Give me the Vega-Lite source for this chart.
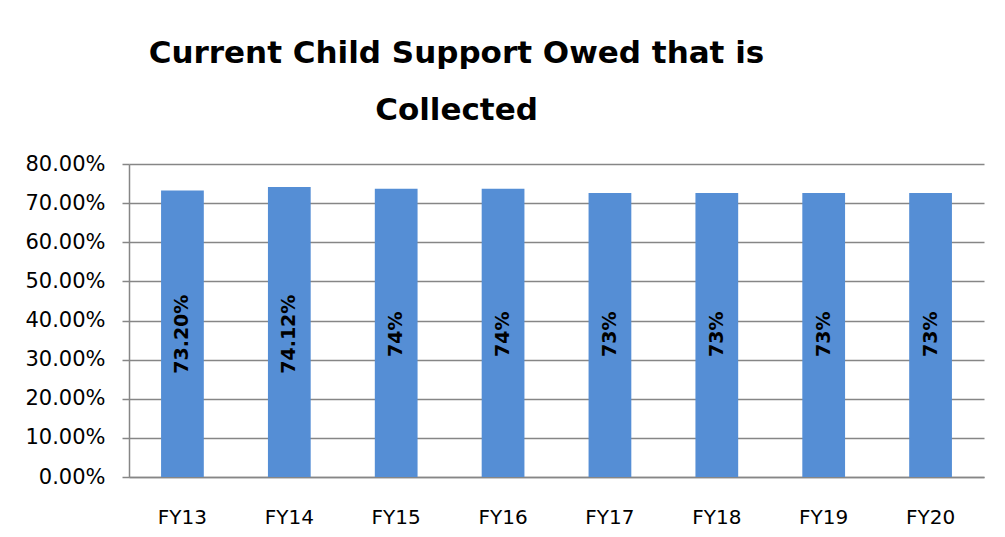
{
  "$schema": "https://vega.github.io/schema/vega-lite/v6.json",
  "width": 855,
  "height": 313,
  "autosize": {"type": "none"},
  "padding": {"left": 129, "top": 164, "right": 21, "bottom": 60},
  "background": "white",
  "title": {
    "text": ["Current Child Support Owed that is", "Collected"],
    "font": "DejaVu Sans",
    "fontSize": 31,
    "fontWeight": "bold",
    "color": "black",
    "anchor": "middle",
    "dx": -100,
    "offset": 26,
    "lineHeight": 57
  },
  "data": {
    "values": [
      {"year": "FY13", "value": 0.732, "label": "73.20%"},
      {"year": "FY14", "value": 0.7412, "label": "74.12%"},
      {"year": "FY15", "value": 0.737, "label": "74%"},
      {"year": "FY16", "value": 0.737, "label": "74%"},
      {"year": "FY17", "value": 0.726, "label": "73%"},
      {"year": "FY18", "value": 0.726, "label": "73%"},
      {"year": "FY19", "value": 0.726, "label": "73%"},
      {"year": "FY20", "value": 0.726, "label": "73%"}
    ]
  },
  "encoding": {
    "x": {
      "field": "year",
      "type": "nominal",
      "sort": null,
      "scale": {"paddingInner": 0.6, "paddingOuter": 0.3},
      "axis": {
        "title": null,
        "labelAngle": 0,
        "labelFont": "DejaVu Sans",
        "labelFontSize": 20,
        "labelColor": "black",
        "labelPadding": 30,
        "ticks": false,
        "domainColor": "#868686",
        "domainWidth": 1.5
      }
    }
  },
  "layer": [
    {
      "mark": {"type": "bar", "color": "#558ED5"},
      "encoding": {
        "y": {
          "field": "value",
          "type": "quantitative",
          "scale": {"domain": [0, 0.8], "nice": false},
          "axis": {
            "title": null,
            "format": ".2%",
            "values": [0, 0.1, 0.2, 0.3, 0.4, 0.5, 0.6, 0.7, 0.8],
            "labelOverlap": false,
            "grid": true
          }
        }
      }
    },
    {
      "mark": {
        "type": "text",
        "angle": 270,
        "align": "center",
        "baseline": "middle",
        "font": "DejaVu Sans",
        "fontSize": 19,
        "fontWeight": "bold",
        "color": "black"
      },
      "encoding": {
        "y": {
          "datum": 0.365,
          "type": "quantitative",
          "axis": {
            "title": null,
            "format": ".2%",
            "values": [0, 0.1, 0.2, 0.3, 0.4, 0.5, 0.6, 0.7, 0.8],
            "labelOverlap": false,
            "grid": true
          }
        },
        "text": {"field": "label"}
      }
    }
  ],
  "config": {
    "view": {"stroke": null},
    "axisY": {
      "labelFont": "DejaVu Sans",
      "labelFontSize": 21,
      "labelColor": "black",
      "labelPadding": 17,
      "tickSize": 7,
      "tickColor": "#868686",
      "tickWidth": 1.5,
      "domainColor": "#868686",
      "domainWidth": 1.5,
      "gridColor": "#868686",
      "gridWidth": 1.5
    }
  }
}
